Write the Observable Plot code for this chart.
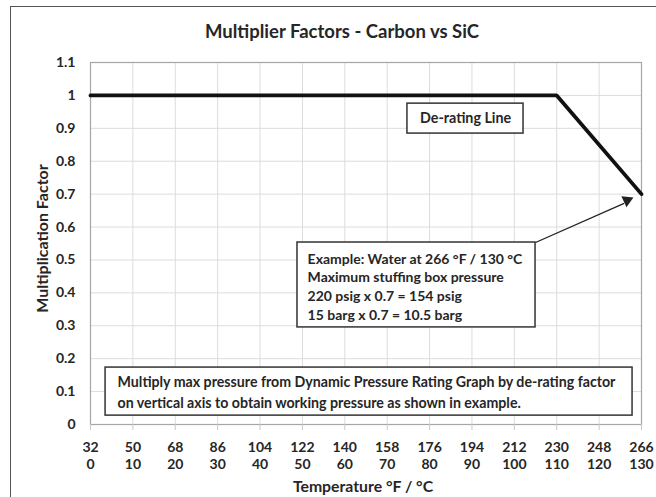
<!DOCTYPE html>
<html>
<head>
<meta charset="utf-8">
<script src="https://cdn.jsdelivr.net/npm/d3@7"></script>
<script src="https://cdn.jsdelivr.net/npm/@observablehq/plot@0.6"></script>
<style>
  html, body { margin: 0; padding: 0; background: #fff; }
  #wrap { position: relative; width: 656px; height: 497px; overflow: hidden; background: #fff; }
  #outer { position: absolute; left: 10px; top: 6px; width: 800px; height: 700px;
           border-left: 1.5px solid #555; border-top: 1.5px solid #555; pointer-events: none; }
  #chart { position: absolute; left: 0; top: 0; }
</style>
</head>
<body>
<div id="wrap"><div id="chart"></div><div id="outer"></div></div>
<script>
// ---- data ----
const fTicks = [32, 50, 68, 86, 104, 122, 140, 158, 176, 194, 212, 230, 248, 266];
const cTicks = [0, 10, 20, 30, 40, 50, 60, 70, 80, 90, 100, 110, 120, 130];
const yTicks = [0, 0.1, 0.2, 0.3, 0.4, 0.5, 0.6, 0.7, 0.8, 0.9, 1, 1.1];
const lineTemps = [32, 230, 266];
const lineFactors = [1, 1, 0.7];

const titleText = "Multiplier Factors - Carbon vs SiC";
const xLabel = "Temperature °F / °C";
const yLabel = "Multiplication Factor";
const deratingText = "De-rating Line";
const exampleText = "Example: Water at 266 °F / 130 °C\nMaximum stuffing box pressure\n220 psig x 0.7 = 154 psig\n15 barg x 0.7 = 10.5 barg";
const noteText = "Multiply max pressure from Dynamic Pressure Rating Graph by de-rating factor\non vertical axis to obtain working pressure as shown in example.";

const lineData = lineTemps.map((t, i) => ({t, f: lineFactors[i]}));

const chart = Plot.plot({
  width: 656,
  height: 497,
  marginLeft: 90,
  marginRight: 15,
  marginTop: 62,
  marginBottom: 73,
  style: {fontFamily: "Lato, 'Open Sans', sans-serif", fontWeight: "bold", color: "#262626", background: "transparent", overflow: "visible"},
  x: {domain: [32, 266]},
  y: {domain: [0, 1.1]},
  marks: [
    Plot.gridX(fTicks, {stroke: "#dcdcdc", strokeOpacity: 1, strokeWidth: 1}),
    Plot.gridY(yTicks, {stroke: "#dcdcdc", strokeOpacity: 1, strokeWidth: 1}),
    Plot.frame({stroke: "#a6a6a6", strokeWidth: 1.2}),
    Plot.axisX(fTicks, {
      tickSize: 6, tickPadding: 9, stroke: "#c8c8c8", fill: "#262626",
      tickFormat: d => `${d}\n${cTicks[fTicks.indexOf(d)]}`,
      fontSize: 14, lineHeight: 1.22, label: null
    }),
    Plot.axisY(yTicks, {
      tickSize: 0, tickPadding: 15, fill: "#262626", fontSize: 14,
      tickFormat: d => String(+d.toFixed(1)), label: null
    }),
    Plot.text([titleText], {frameAnchor: "top", dx: -24, dy: -30, lineAnchor: "middle", textAnchor: "middle", fontSize: 18.5, fill: "#262626"}),
    Plot.text([xLabel], {frameAnchor: "bottom", dx: -3, dy: 62, lineAnchor: "middle", textAnchor: "middle", fontSize: 15.8, fill: "#262626"}),
    Plot.text([yLabel], {frameAnchor: "left", dx: -48, dy: -5, rotate: -90, lineAnchor: "middle", textAnchor: "middle", fontSize: 16, fill: "#262626"}),
    Plot.line(lineData, {x: "t", y: "f", stroke: "#111", strokeWidth: 3.8, strokeLinejoin: "miter"}),
    // De-rating label box
    Plot.rect([deratingText], {x1: 166.6, x2: 215.9, y1: 0.884, y2: 0.975, fill: "#fff", stroke: "#333", strokeWidth: 1.5}),
    Plot.text([deratingText], {x: 191.3, y: 0.93, fontSize: 14.3, fill: "#262626"}),
    // Example box
    Plot.rect([exampleText], {x1: 119.9, x2: 221, y1: 0.295, y2: 0.553, fill: "#fff", stroke: "#333", strokeWidth: 1.5}),
    Plot.text([exampleText], {x: 124.2, y: 0.553, dy: 8, textAnchor: "start", lineAnchor: "top", lineHeight: 1.33, fontSize: 14, fill: "#262626"}),
    // Arrow
    Plot.link([exampleText], {x1: 221, y1: 0.553, x2: 258.6, y2: 0.672, stroke: "#222", strokeWidth: 1.3}),
    Plot.dot([exampleText], {x: 262.6, y: 0.69, dx: -6.4, dy: 2.9, symbol: "triangle", r: 4.5, rotate: 65.3, fill: "#222", stroke: "none"}),
    // Bottom note box
    Plot.rect([noteText], {x1: 38.4, x2: 262.2, y1: 0.027, y2: 0.173, fill: "#fff", stroke: "#333", strokeWidth: 1.5}),
    Plot.text([noteText], {x: 43.5, y: 0.173, dy: 4, textAnchor: "start", lineAnchor: "top", lineHeight: 1.5, fontSize: 14.2, fill: "#262626"})
  ]
});
document.getElementById("chart").appendChild(chart);
</script>
</body>
</html>
